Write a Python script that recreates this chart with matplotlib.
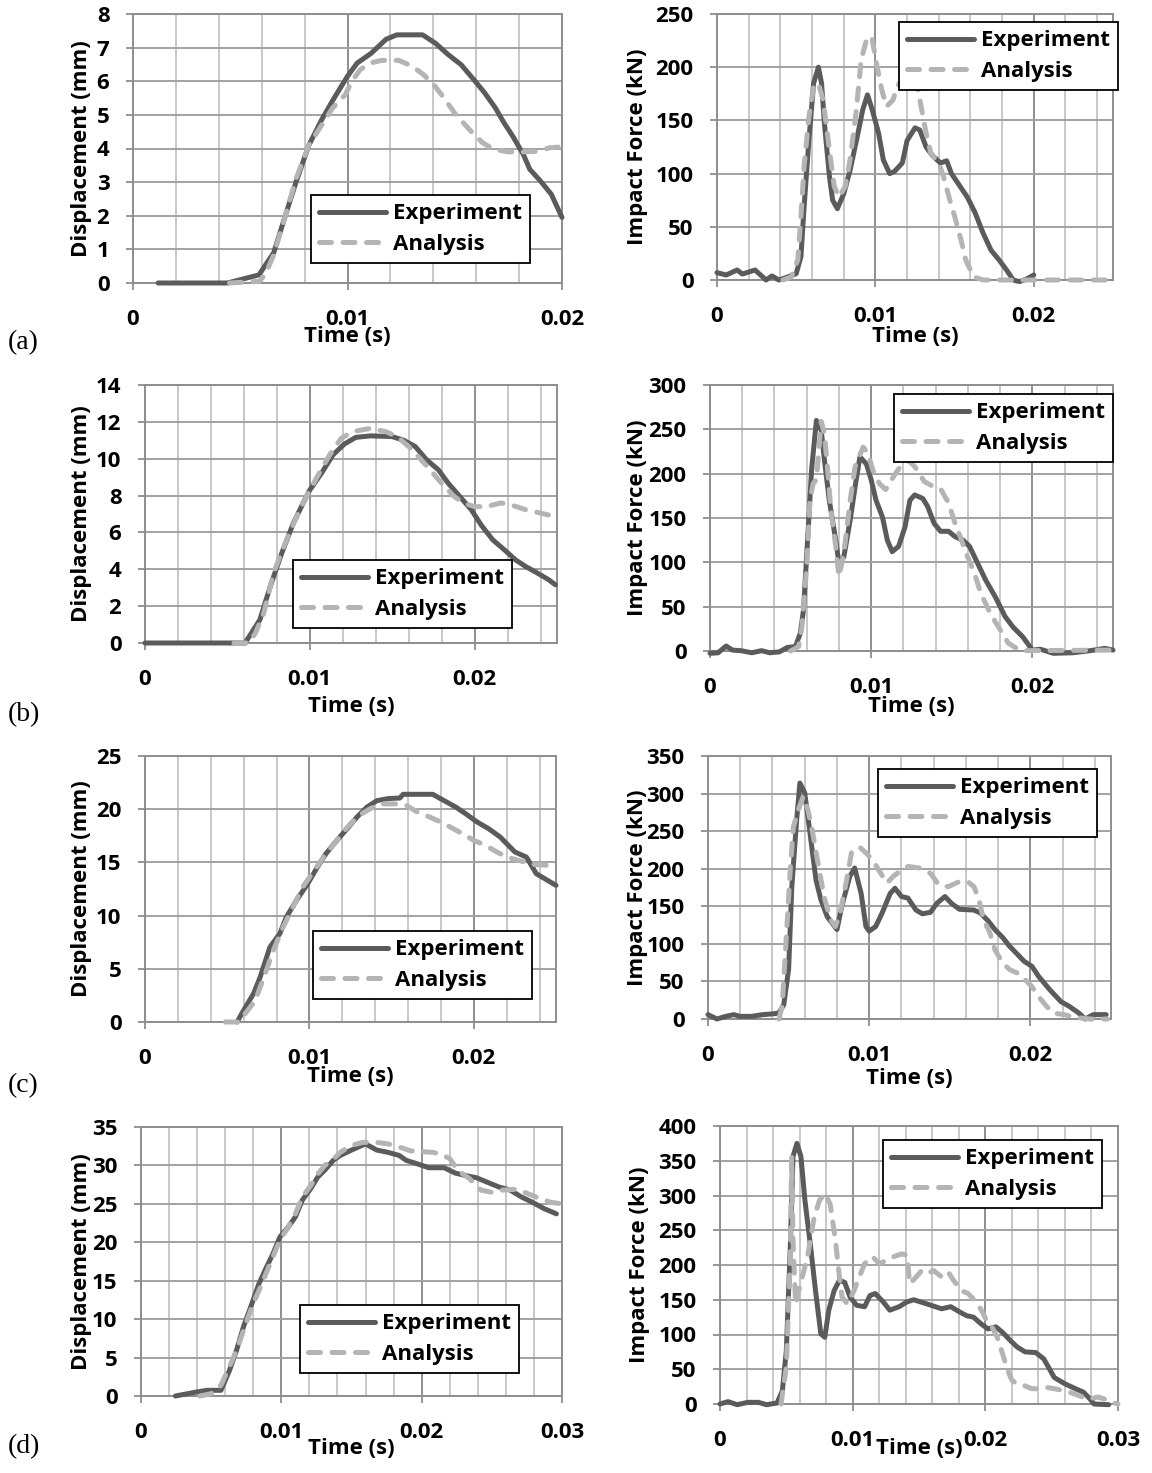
import numpy as np
import matplotlib
matplotlib.use("Agg")
import matplotlib.pyplot as plt
from matplotlib.ticker import MultipleLocator, FixedLocator, FixedFormatter

# ---------------- data ----------------
series_labels = ["Experiment", "Analysis"]
panel_tags = ["(a)", "(b)", "(c)", "(d)"]
x_label = "Time (s)"
disp_label = "Displacement (mm)"
force_label = "Impact Force (kN)"

# (a) displacement
a_disp_exp_t = [0.00117, 0.0044, 0.00587, 0.00656, 0.0071, 0.0076, 0.0082, 0.0088, 0.00933, 0.0100,
                0.01045, 0.0111, 0.0118, 0.0123, 0.0135, 0.0141, 0.0147, 0.0153, 0.0159, 0.0164,
                0.0169, 0.0173, 0.0177, 0.0182, 0.0185, 0.0190, 0.0195, 0.0200]
a_disp_exp_y = [0, 0, 0.24, 0.9, 2.0, 3.0, 4.1, 4.86, 5.45, 6.15, 6.54, 6.83, 7.25, 7.38, 7.38, 7.13,
                6.79, 6.49, 6.04, 5.65, 5.2, 4.76, 4.37, 3.82, 3.38, 3.03, 2.64, 1.95]
a_disp_ana_t = [0.0045, 0.0059, 0.0062, 0.00657, 0.0071, 0.0076, 0.0082, 0.0088, 0.0093, 0.0099,
                0.0102, 0.0106, 0.0111, 0.0116, 0.0124, 0.0130, 0.0135, 0.0140, 0.0145, 0.0150,
                0.0157, 0.0163, 0.0168, 0.0175, 0.0182, 0.0189, 0.0194, 0.0200]
a_disp_ana_y = [0, 0.05, 0.3, 0.85, 2.0, 3.1, 4.1, 4.7, 5.2, 5.6, 6.0, 6.35, 6.55, 6.62, 6.62, 6.45,
                6.22, 5.92, 5.5, 5.05, 4.55, 4.17, 3.98, 3.9, 3.9, 3.92, 4.02, 4.05]

# (a) force
a_force_exp_t = [0, 0.00058, 0.00127, 0.0016, 0.0024, 0.0031, 0.00347, 0.0039, 0.0045, 0.0050,
                 0.0053, 0.0055, 0.0058, 0.0061, 0.0064, 0.0066, 0.0068, 0.0071, 0.0073, 0.0076,
                 0.0080, 0.0084, 0.0089, 0.0092, 0.0095, 0.0098, 0.0102, 0.0105, 0.0109, 0.0112,
                 0.0117, 0.0120, 0.0125, 0.0128, 0.0132, 0.0136, 0.0141, 0.0145, 0.0148, 0.0153,
                 0.0158, 0.0163, 0.0168, 0.0173, 0.0178, 0.0183, 0.0187, 0.0191, 0.0195, 0.0200]
a_force_exp_y = [6.9, 4.7, 9.4, 5.6, 9.4, 0, 3.8, 0, 3, 6, 22, 69, 131, 185, 200, 185, 144, 97, 75, 67,
                 81, 103, 138, 160, 174, 160, 138, 113, 100, 102, 110, 131, 143, 141, 125, 117, 110,
                 112, 100, 89, 78, 63, 44, 28, 19, 9, 0, -1.5, 0.6, 4.7]
a_force_ana_t = [0.00416, 0.0047, 0.0051, 0.0053, 0.0055, 0.0058, 0.0061, 0.0064, 0.0067, 0.0071,
                 0.0074, 0.0077, 0.0081, 0.0084, 0.0088, 0.0091, 0.0095, 0.0098, 0.0101, 0.0104,
                 0.0107, 0.0111, 0.0114, 0.0118, 0.0122, 0.0126, 0.0129, 0.0132, 0.0135, 0.0140,
                 0.0143, 0.0147, 0.0150, 0.0154, 0.0157, 0.0162, 0.0168, 0.0250]
a_force_ana_y = [0, 3, 19, 60, 107, 153, 182, 185, 169, 122, 88, 78, 88, 113, 160, 207, 229, 226, 201,
                 179, 163, 169, 182, 192, 194, 185, 162, 138, 119, 110, 97, 75, 60, 38, 19, 3, 0, 0]

# (b) displacement
b_disp_exp_t = [0, 0.00607, 0.00697, 0.0076, 0.0083, 0.0090, 0.0096, 0.0100, 0.0107, 0.0114, 0.0121,
                0.0128, 0.0137, 0.0150, 0.0157, 0.0164, 0.0171, 0.0178, 0.0184, 0.0191, 0.0198,
                0.0204, 0.0211, 0.0218, 0.0225, 0.0231, 0.0238, 0.0245, 0.0249]
b_disp_exp_y = [0, 0, 1.26, 3.07, 4.88, 6.5, 7.6, 8.3, 9.2, 10.2, 10.8, 11.16, 11.24, 11.2, 11.0,
                10.66, 9.93, 9.4, 8.67, 7.95, 7.23, 6.4, 5.6, 5.06, 4.5, 4.15, 3.8, 3.43, 3.16]
b_disp_ana_t = [0.0054, 0.0063, 0.0067, 0.0072, 0.0078, 0.0085, 0.0092, 0.0098, 0.0105, 0.0112,
                0.0119, 0.0126, 0.0137, 0.0146, 0.0153, 0.0160, 0.0166, 0.0173, 0.0180, 0.0187,
                0.0193, 0.0200, 0.0207, 0.0216, 0.0222, 0.0231, 0.0240, 0.0249]
b_disp_ana_y = [0, 0, 0.54, 1.6, 3.8, 5.4, 6.86, 7.95, 9.1, 10.2, 11.1, 11.47, 11.65, 11.47, 11.2,
                10.66, 10.1, 9.4, 8.67, 8.0, 7.6, 7.4, 7.4, 7.6, 7.5, 7.23, 7.05, 6.86]

# (b) force
b_force_exp_t = [0, 0.0005, 0.0010, 0.0014, 0.0019, 0.0026, 0.0032, 0.0037, 0.0043, 0.0048, 0.0053,
                 0.0056, 0.0058, 0.0061, 0.0063, 0.0066, 0.0069, 0.0071, 0.0074, 0.0078, 0.0080,
                 0.0083, 0.0087, 0.0090, 0.0093, 0.0097, 0.0100, 0.0103, 0.0107, 0.0110, 0.0113,
                 0.0117, 0.0121, 0.0124, 0.0127, 0.0132, 0.0135, 0.0139, 0.0143, 0.0148, 0.0152,
                 0.0157, 0.0161, 0.0166, 0.0171, 0.0177, 0.0183, 0.0188, 0.0194, 0.0200, 0.0205,
                 0.0213, 0.0225, 0.0236, 0.0245, 0.0250]
b_force_exp_y = [-2.6, -2, 5.6, 1, 0.4, -2, 0.4, -2, -1, 4, 5, 20, 46, 140, 204, 260, 249, 215, 170,
                 125, 99, 106, 148, 185, 219, 211, 193, 170, 151, 125, 112, 118, 140, 170, 176, 172,
                 163, 144, 135, 135, 129, 125, 118, 99, 80, 61, 39, 27, 16, 1, 2, -2.6, -2, 0.4, 3, 1]
b_force_ana_t = [0.0050, 0.0055, 0.0057, 0.0060, 0.0062, 0.0064, 0.0066, 0.0069, 0.0071, 0.0073,
                 0.0075, 0.0078, 0.0080, 0.0083, 0.0087, 0.0090, 0.0095, 0.0098, 0.0101, 0.0105,
                 0.0109, 0.0114, 0.0118, 0.0123, 0.0127, 0.0133, 0.0139, 0.0143, 0.0148, 0.0152,
                 0.0156, 0.0159, 0.0164, 0.0168, 0.0174, 0.0180, 0.0185, 0.0191, 0.0195, 0.0250]
b_force_ana_y = [0, 5, 27, 95, 170, 189, 193, 259, 245, 204, 159, 118, 84, 110, 170, 208, 230, 223,
                 204, 189, 182, 197, 208, 215, 208, 191, 185, 183, 167, 144, 125, 110, 88, 65, 42,
                 24, 9, 2, 0.4, 1]

# (c) displacement
c_disp_exp_t = [0.0056, 0.0060, 0.0066, 0.0070, 0.0076, 0.0082, 0.0086, 0.0092, 0.0099, 0.0105,
                0.0110, 0.0115, 0.0122, 0.0129, 0.0135, 0.0141, 0.0148, 0.0155, 0.0157, 0.0175,
                0.0182, 0.0189, 0.0195, 0.0202, 0.0209, 0.0216, 0.0220, 0.0225, 0.0232, 0.0238,
                0.0245, 0.0250]
c_disp_exp_y = [0, 1.1, 2.66, 4.2, 7.05, 8.3, 9.87, 11.4, 13.0, 14.6, 15.8, 16.76, 18.0, 19.27, 20.2,
                20.8, 21.0, 21.05, 21.4, 21.4, 20.8, 20.2, 19.58, 18.8, 18.17, 17.39, 16.76, 15.98,
                15.5, 13.94, 13.3, 12.84]
c_disp_ana_t = [0.0049, 0.0057, 0.0061, 0.0067, 0.0073, 0.0078, 0.0084, 0.0090, 0.0096, 0.0103,
                0.0110, 0.0117, 0.0123, 0.0130, 0.0137, 0.0144, 0.0153, 0.0159, 0.0166, 0.0173,
                0.0180, 0.0186, 0.0193, 0.0200, 0.0207, 0.0214, 0.0220, 0.0227, 0.0236, 0.0245,
                0.0250]
c_disp_ana_y = [0, 0, 0.8, 2.0, 4.5, 6.7, 8.9, 10.8, 12.7, 14.25, 15.8, 17.1, 18.3, 19.4, 20.05, 20.5,
                20.5, 20.36, 19.7, 19.27, 18.8, 18.3, 17.7, 17.07, 16.6, 15.98, 15.5, 15.2, 14.82,
                14.72, 14.4]

# (c) force
c_force_exp_t = [0, 0.00056, 0.0011, 0.0016, 0.0020, 0.0027, 0.0034, 0.0041, 0.0044, 0.0047, 0.0050,
                 0.0052, 0.0055, 0.0057, 0.0060, 0.0063, 0.0067, 0.0070, 0.0074, 0.0080, 0.0083,
                 0.0088, 0.0091, 0.0095, 0.0098, 0.0100, 0.0104, 0.0108, 0.0113, 0.0116, 0.0120,
                 0.0124, 0.0129, 0.0133, 0.0138, 0.0142, 0.0147, 0.0151, 0.0156, 0.0165, 0.0169,
                 0.0174, 0.0178, 0.0183, 0.0187, 0.0192, 0.0196, 0.0201, 0.0205, 0.0212, 0.0219,
                 0.0224, 0.0230, 0.0234, 0.0239, 0.0247]
c_force_exp_y = [5.8, 0, 3.5, 5.8, 3.5, 3.5, 5.8, 7, 8, 19, 66, 176, 265, 314, 301, 252, 185, 159, 136,
                 119, 150, 190, 201, 167, 123, 117, 123, 141, 167, 174, 163, 161, 145, 140, 142, 154,
                 163, 154, 146, 145, 141, 130, 119, 108, 97, 86, 77, 70, 57, 39, 23, 17, 8, 0, 5.8, 5.8]
c_force_ana_t = [0.0044, 0.0046, 0.0048, 0.0051, 0.0053, 0.0056, 0.0059, 0.0062, 0.0065, 0.0069,
                 0.0072, 0.0076, 0.0079, 0.0082, 0.0086, 0.0089, 0.0094, 0.0098, 0.0102, 0.0106,
                 0.0111, 0.0115, 0.0120, 0.0124, 0.0131, 0.0138, 0.0143, 0.0149, 0.0156, 0.0161,
                 0.0165, 0.0168, 0.0171, 0.0175, 0.0178, 0.0183, 0.0187, 0.0192, 0.0196, 0.0201,
                 0.0205, 0.0210, 0.0214, 0.0221, 0.0228, 0.0237, 0.0248]
c_force_ana_y = [0, 17, 88, 198, 256, 278, 296, 278, 247, 198, 163, 132, 123, 141, 185, 221, 229, 221,
                 212, 198, 181, 190, 198, 203, 201, 194, 179, 176, 183, 183, 176, 159, 132, 114, 92,
                 74, 66, 61, 54, 43, 30, 17, 8, 5.8, 2, 0, 0]

# (d) displacement
d_disp_exp_t = [0.00245, 0.0039, 0.0047, 0.0057, 0.0063, 0.0068, 0.0073, 0.0079, 0.0084, 0.0089,
                0.0094, 0.0099, 0.0105, 0.0110, 0.0115, 0.0121, 0.0126, 0.0131, 0.0137, 0.0142,
                0.0150, 0.0160, 0.0168, 0.0176, 0.0184, 0.0189, 0.0197, 0.0205, 0.0216, 0.0224,
                0.0231, 0.0239, 0.0247, 0.0255, 0.0263, 0.0271, 0.0279, 0.0287, 0.0296]
d_disp_exp_y = [0, 0.5, 0.74, 0.74, 3.3, 5.9, 9.0, 12.0, 14.6, 16.6, 18.5, 20.7, 22.0, 23.3, 25.5,
                27.0, 28.5, 29.4, 30.66, 31.3, 32.0, 32.8, 32.0, 31.7, 31.3, 30.66, 30.2, 29.7, 29.7,
                29.0, 28.7, 28.4, 27.8, 27.2, 26.8, 25.9, 25.2, 24.4, 23.7]
d_disp_ana_t = [0.0042, 0.0050, 0.0057, 0.0063, 0.0068, 0.0073, 0.0079, 0.0084, 0.0089, 0.0094,
                0.0099, 0.0105, 0.0110, 0.0115, 0.0121, 0.0126, 0.0131, 0.0137, 0.0142, 0.0150,
                0.0158, 0.0168, 0.0176, 0.0184, 0.0192, 0.0199, 0.0208, 0.0213, 0.0220, 0.0226,
                0.0234, 0.0242, 0.0250, 0.0258, 0.0268, 0.0276, 0.0284, 0.0292, 0.0300]
d_disp_ana_y = [0, 0.3, 1.4, 3.8, 5.9, 8.5, 11.6, 13.7, 15.9, 18.1, 20.3, 22.0, 23.7, 25.9, 27.4, 28.9,
                30.0, 30.8, 31.7, 32.6, 33.0, 33.0, 32.8, 32.4, 31.9, 31.8, 31.7, 31.5, 30.9, 29.3,
                28.3, 26.8, 26.5, 26.8, 26.9, 26.3, 25.7, 25.2, 25.0]

# (d) force
d_force_exp_t = [0, 0.0006, 0.0013, 0.0021, 0.0029, 0.0035, 0.0043, 0.0047, 0.0050, 0.0053, 0.0055,
                 0.0058, 0.0061, 0.0064, 0.0068, 0.0072, 0.0076, 0.0079, 0.0082, 0.0086, 0.0090,
                 0.0094, 0.0098, 0.0103, 0.0109, 0.0113, 0.0117, 0.0123, 0.0128, 0.0135, 0.0141,
                 0.0146, 0.0156, 0.0167, 0.0174, 0.0181, 0.0186, 0.0191, 0.0197, 0.0202, 0.0208,
                 0.0213, 0.0219, 0.0224, 0.0230, 0.0238, 0.0244, 0.0252, 0.0260, 0.0268, 0.0274,
                 0.0279, 0.0282, 0.0293]
d_force_exp_y = [0, 3.4, -1, 2.4, 2.4, -1, 1.4, 19, 77, 226, 356, 375, 356, 293, 231, 163, 101, 96, 135,
                 163, 178, 175, 154, 142, 140, 156, 159, 147, 135, 140, 147, 150, 144, 137, 140, 132,
                 127, 125, 115, 108, 111, 103, 91, 82, 75, 74, 65, 38, 29, 22, 17, 7, 0, -1]
d_force_ana_t = [0.0046, 0.0050, 0.0053, 0.0054, 0.0055, 0.0057, 0.0060, 0.0062, 0.0066, 0.0071,
                 0.0075, 0.0079, 0.0083, 0.0087, 0.0090, 0.0092, 0.0096, 0.0101, 0.0105, 0.0109,
                 0.0115, 0.0120, 0.0126, 0.0131, 0.0137, 0.0141, 0.0143, 0.0148, 0.0152, 0.0157,
                 0.0161, 0.0167, 0.0172, 0.0176, 0.0182, 0.0187, 0.0193, 0.0197, 0.0201, 0.0205,
                 0.0209, 0.0213, 0.0217, 0.0220, 0.0224, 0.0230, 0.0235, 0.0241, 0.0246, 0.0252,
                 0.0260, 0.0268, 0.0277, 0.0285, 0.0290, 0.0296, 0.0300]
d_force_ana_y = [0, 53, 212, 356, 236, 144, 168, 183, 212, 269, 293, 303, 288, 236, 183, 154, 144, 163,
                 183, 202, 212, 202, 207, 212, 216, 214, 173, 183, 192, 188, 192, 183, 190, 178, 163,
                 159, 147, 135, 120, 111, 96, 72, 48, 34, 29, 26, 22, 22, 24, 22, 19, 14, 7, 10, 7, 2, 0]

y_maxes = [8, 250, 14, 300, 25, 350, 35, 400]
y_steps = [1, 50, 2, 50, 5, 50, 5, 50]
x_maxes = [0.02, 0.025, 0.025, 0.025, 0.025, 0.025, 0.03, 0.03]

# ---------------- layout (pixels) ----------------
W, H = 1152, 1473
# left, top, right, bottom of plot area
rects = [(133, 14, 562, 283), (717, 14, 1113, 280),
         (145, 385, 557, 643), (710, 385, 1113, 651),
         (145, 756, 556, 1022), (708, 756, 1111, 1019),
         (141, 1127, 562, 1396), (720, 1126, 1118, 1404)]
legend_tl = [(311, 195), (899, 22), (293, 560), (894, 394),
             (313, 931), (878, 769), (300, 1305), (883, 1140)]
xlabel_dy = [54, 57, 64, 56, 55, 59, 52, 44]
ylabel_x = [81, 638, 81, 638, 81, 638, 81, 640]
tag_y = [343, 715, 1086, 1447]

FONT = "Open Sans"
FS = 16
EXP_C = "#5b5b5b"
ANA_C = "#b4b4b4"

panels = [
    (a_disp_exp_t, a_disp_exp_y, a_disp_ana_t, a_disp_ana_y, disp_label),
    (a_force_exp_t, a_force_exp_y, a_force_ana_t, a_force_ana_y, force_label),
    (b_disp_exp_t, b_disp_exp_y, b_disp_ana_t, b_disp_ana_y, disp_label),
    (b_force_exp_t, b_force_exp_y, b_force_ana_t, b_force_ana_y, force_label),
    (c_disp_exp_t, c_disp_exp_y, c_disp_ana_t, c_disp_ana_y, disp_label),
    (c_force_exp_t, c_force_exp_y, c_force_ana_t, c_force_ana_y, force_label),
    (d_disp_exp_t, d_disp_exp_y, d_disp_ana_t, d_disp_ana_y, disp_label),
    (d_force_exp_t, d_force_exp_y, d_force_ana_t, d_force_ana_y, force_label),
]

fig = plt.figure(figsize=(W / 100, H / 100), dpi=100)

for i, (et, ey, at, ay, ylab) in enumerate(panels):
    l, t, r, b = rects[i]
    ax = fig.add_axes([l / W, 1 - b / H, (r - l) / W, (b - t) / H])
    ax.plot(et, ey, color=EXP_C, lw=3.6, solid_capstyle="round", solid_joinstyle="round",
            label=series_labels[0], clip_on=False, zorder=3)
    ax.plot(at, ay, color=ANA_C, lw=3.6, dashes=(2.4, 2.3), dash_capstyle="round",
            label=series_labels[1], clip_on=False, zorder=4)
    xmax = x_maxes[i]
    ax.set_xlim(0, xmax)
    ax.set_ylim(0, y_maxes[i])
    xt = np.round(np.arange(0, xmax + 1e-9, 0.01), 3)
    ax.xaxis.set_major_locator(FixedLocator(xt))
    ax.xaxis.set_major_formatter(FixedFormatter(["0" if v == 0 else f"{v:g}" for v in xt]))
    ax.xaxis.set_minor_locator(MultipleLocator(0.002))
    ax.yaxis.set_major_locator(MultipleLocator(y_steps[i]))
    ax.set_axisbelow(True)
    ax.grid(which="minor", axis="x", color="#c8c8c8", lw=1.4)
    ax.grid(which="major", axis="x", color="#8e8e8e", lw=1.4)
    ax.grid(which="major", axis="y", color="#a2a2a2", lw=1.4)
    for sp in ax.spines.values():
        sp.set_color("#8e8e8e")
        sp.set_linewidth(1.4)
    ax.tick_params(which="minor", length=0)
    ax.tick_params(which="major", direction="out", length=5, width=1.3, color="#8e8e8e")
    ax.tick_params(axis="x", pad=14)
    ax.tick_params(axis="y", pad=12)
    for lab in ax.get_xticklabels() + ax.get_yticklabels():
        lab.set_fontfamily(FONT)
        lab.set_fontweight("bold")
        lab.set_fontsize(FS)
    hpx = b - t
    wpx = r - l
    ax.set_xlabel(x_label, fontfamily=FONT, fontweight="bold", fontsize=FS)
    ax.xaxis.label.set_va("center")
    ax.xaxis.set_label_coords(0.5, -xlabel_dy[i] / hpx)
    ax.set_ylabel(ylab, fontfamily=FONT, fontweight="bold", fontsize=FS)
    ax.yaxis.label.set_va("center")
    ax.yaxis.set_label_coords((ylabel_x[i] - l) / wpx, 0.5)
    lx, ly = legend_tl[i]
    leg = ax.legend(loc="upper left", bbox_to_anchor=(lx / W, 1 - ly / H),
                    bbox_transform=fig.transFigure, borderaxespad=0,
                    prop={"family": FONT, "weight": "bold", "size": FS},
                    frameon=True, fancybox=False, framealpha=1, edgecolor="black",
                    borderpad=0.38, labelspacing=0.42, handlelength=3.0, handletextpad=0.3)
    leg.get_frame().set_linewidth(1.3)
    leg.set_zorder(10)

for k, tag in enumerate(panel_tags):
    fig.text(8 / W, 1 - tag_y[k] / H, tag, family="Liberation Serif", fontsize=20,
             ha="left", va="center")

fig.savefig("out.png", dpi=100, facecolor="white")
